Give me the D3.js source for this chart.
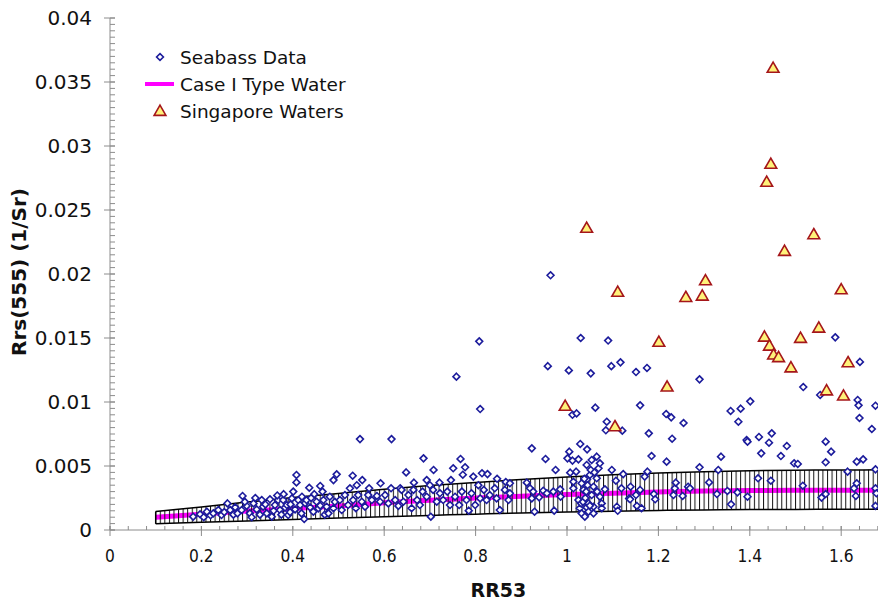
<!DOCTYPE html>
<html>
<head>
<meta charset="utf-8">
<script src="https://cdn.jsdelivr.net/npm/d3@7"></script>
<style>
  html, body { margin: 0; padding: 0; background: #fff; }
  svg { display: block; font-family: "DejaVu Sans", Verdana, sans-serif; }
</style>
</head>
<body>
<svg id="chart" width="878" height="605"></svg>
<script>
// ---- Data -------------------------------------------------------------
// x ticks and y ticks
const xTicks = [0, 0.2, 0.4, 0.6, 0.8, 1, 1.2, 1.4, 1.6];
const yTicks = [0, 0.005, 0.01, 0.015, 0.02, 0.025, 0.03, 0.035, 0.04];

// Case I model curve with its upper/lower envelope
const modelX     = [0.1, 0.2, 0.3, 0.4, 0.5, 0.6, 0.7, 0.8, 0.9, 1.0, 1.1, 1.2, 1.3, 1.4, 1.5, 1.6, 1.7];
const modelMid   = [0.00100, 0.00124, 0.00148, 0.00167, 0.00188, 0.00213, 0.00232, 0.00250, 0.00264, 0.00277, 0.00288, 0.00297, 0.00304, 0.00308, 0.00310, 0.00311, 0.00311];
const modelUpper = [0.00145, 0.00180, 0.00218, 0.00253, 0.00286, 0.00318, 0.00347, 0.00372, 0.00395, 0.00415, 0.00432, 0.00446, 0.00456, 0.00463, 0.00467, 0.00469, 0.00470];
const modelLower = [0.00048, 0.00060, 0.00071, 0.00082, 0.00093, 0.00104, 0.00114, 0.00124, 0.00133, 0.00140, 0.00147, 0.00153, 0.00157, 0.00160, 0.00161, 0.00162, 0.00162];

// Singapore waters [RR53, Rrs(555)]
const singapore = [
  [1.451, 0.0361], [1.446, 0.0286], [1.437, 0.0272], [1.043, 0.0236], [1.540, 0.0231],
  [1.476, 0.0218], [1.303, 0.0195], [1.111, 0.0186], [1.600, 0.0188], [1.260, 0.0182],
  [1.296, 0.0183], [1.201, 0.0147], [1.432, 0.0151], [1.443, 0.0144], [1.452, 0.0137],
  [1.463, 0.0135], [1.511, 0.0150], [1.551, 0.0158], [1.490, 0.0127], [1.615, 0.0131],
  [1.219, 0.0112], [1.568, 0.0109], [1.605, 0.0105], [1.105, 0.0081], [0.996, 0.0097]
];

// SeaBASS in-situ data [RR53, Rrs(555)]
const seabass = [
  [0.182,0.00104],[0.197,0.00123],[0.205,0.00100],[0.212,0.00143],[0.220,0.00115],[0.226,0.00130],
  [0.237,0.00156],[0.244,0.00117],[0.250,0.00140],[0.257,0.00208],[0.263,0.00156],[0.270,0.00120],
  [0.274,0.00177],[0.279,0.00130],[0.288,0.00156],[0.290,0.00266],[0.299,0.00188],[0.306,0.00130],
  [0.310,0.00100],[0.314,0.00208],[0.321,0.00161],[0.328,0.00120],[0.332,0.00234],[0.335,0.00182],
  [0.343,0.00130],[0.350,0.00240],[0.354,0.00104],[0.358,0.00150],[0.361,0.00195],[0.368,0.00234],
  [0.372,0.00156],[0.375,0.00120],[0.379,0.00234],[0.383,0.00175],[0.387,0.00195],[0.390,0.00117],
  [0.394,0.00140],[0.398,0.00247],[0.401,0.00300],[0.405,0.00161],[0.408,0.00430],[0.408,0.00372],
  [0.412,0.00234],[0.416,0.00195],[0.419,0.00130],[0.425,0.00086],[0.427,0.00210],[0.430,0.00234],
  [0.436,0.00330],[0.438,0.00177],[0.445,0.00143],[0.447,0.00280],[0.452,0.00221],[0.456,0.00169],
  [0.460,0.00344],[0.465,0.00300],[0.467,0.00234],[0.470,0.00120],[0.474,0.00182],[0.478,0.00130],
  [0.295,0.00220],[0.318,0.00250],[0.340,0.00200],[0.366,0.00270],[0.380,0.00280],[0.395,0.00200],
  [0.420,0.00260],[0.440,0.00250],[0.460,0.00190],
  [0.481,0.00260],[0.489,0.00390],[0.489,0.00170],[0.492,0.00220],[0.496,0.00435],[0.503,0.00234],
  [0.507,0.00156],[0.514,0.00273],[0.521,0.00195],[0.525,0.00326],[0.531,0.00424],[0.532,0.00234],
  [0.538,0.00170],[0.540,0.00350],[0.543,0.00273],[0.547,0.00710],[0.551,0.00221],[0.552,0.00390],
  [0.558,0.00182],[0.565,0.00273],[0.567,0.00326],[0.573,0.00234],[0.584,0.00266],[0.591,0.00221],
  [0.592,0.00365],[0.602,0.00273],[0.609,0.00208],[0.615,0.00326],[0.616,0.00710],[0.624,0.00234],
  [0.631,0.00188],[0.635,0.00326],[0.638,0.00313],[0.642,0.00221],[0.648,0.00450],[0.653,0.00273],
  [0.660,0.00170],[0.664,0.00313],[0.665,0.00370],[0.672,0.00234],[0.678,0.00195],[0.684,0.00300],
  [0.686,0.00560],[0.693,0.00260],[0.693,0.00390],[0.700,0.00350],[0.702,0.00104],[0.707,0.00313],
  [0.708,0.00469],[0.715,0.00221],[0.721,0.00370],[0.722,0.00287],[0.729,0.00234],[0.738,0.00300],
  [0.744,0.00195],[0.746,0.00390],[0.751,0.00482],[0.755,0.00260],[0.758,0.01198],[0.764,0.00195],
  [0.767,0.00555],[0.770,0.00300],[0.772,0.00432],[0.777,0.00490],[0.780,0.00234],[0.785,0.00151],
  [0.791,0.00287],[0.795,0.00417],[0.799,0.00195],[0.806,0.00350],[0.808,0.01474],[0.810,0.00945],
  [0.810,0.00247],[0.814,0.00443],[0.818,0.00313],[0.824,0.00234],[0.826,0.00437],[0.831,0.00273],
  [0.842,0.00326],[0.846,0.00247],[0.847,0.00400],[0.853,0.00156],[0.864,0.00313],[0.866,0.00375],
  [0.872,0.00234],
  [0.875,0.00365],[0.875,0.00287],[0.912,0.00370],[0.919,0.00326],[0.923,0.00638],[0.923,0.00247],
  [0.926,0.00300],[0.929,0.00143],[0.939,0.00255],[0.948,0.00307],[0.953,0.00555],[0.956,0.00287],
  [0.958,0.01280],[0.964,0.01990],[0.970,0.00300],[0.972,0.00151],[0.975,0.00469],[0.985,0.00318],
  [0.986,0.00260],[1.001,0.00560],[1.004,0.01247],[1.005,0.00612],[1.007,0.00448],[1.012,0.00900],
  [1.012,0.00542],[1.014,0.00377],[1.014,0.00326],[1.020,0.00456],[1.021,0.00911],[1.025,0.00552],
  [1.025,0.00234],[1.028,0.00170],[1.029,0.00672],[1.030,0.01500],[1.031,0.00208],[1.032,0.00365],
  [1.032,0.00130],[1.036,0.00313],[1.039,0.00104],[1.042,0.00300],[1.043,0.00508],[1.043,0.00177],
  [1.044,0.00630],[1.044,0.00396],[1.047,0.00208],[1.047,0.00143],[1.050,0.00430],[1.052,0.00469],
  [1.052,0.01224],[1.054,0.00547],[1.054,0.00273],[1.058,0.00338],[1.058,0.00182],[1.058,0.00130],
  [1.062,0.00956],[1.065,0.00573],[1.065,0.00404],[1.066,0.00300],[1.069,0.00482],[1.072,0.00521],
  [1.072,0.00260],[1.076,0.00208],[1.076,0.00170],[1.083,0.00318],[1.085,0.00779],[1.087,0.00846],
  [1.035,0.00220],[1.040,0.00250],[1.050,0.00190],[1.045,0.00350],[1.038,0.00400],[1.060,0.00450],
  [1.090,0.01480],[1.097,0.01280],[1.098,0.00469],[1.107,0.00385],[1.109,0.00182],[1.111,0.00150],
  [1.117,0.01310],[1.119,0.00326],[1.121,0.00776],[1.123,0.00437],[1.136,0.00247],[1.138,0.00240],
  [1.139,0.00338],[1.151,0.01234],[1.151,0.00273],[1.153,0.00188],[1.160,0.00974],[1.160,0.00313],
  [1.163,0.00170],[1.170,0.00417],[1.175,0.01266],[1.176,0.00456],[1.179,0.00755],[1.185,0.00578],
  [1.190,0.00281],[1.193,0.00240],[1.217,0.00906],[1.218,0.00534],[1.228,0.00880],[1.230,0.00713],
  [1.233,0.00273],[1.236,0.00326],[1.238,0.00370],[1.253,0.00266],[1.255,0.00836],[1.265,0.00338],
  [1.269,0.00326],[1.290,0.01177],[1.290,0.00490],[1.311,0.00372],[1.328,0.00281],[1.331,0.00469],
  [1.337,0.00573],[1.351,0.00305],[1.358,0.00930],[1.359,0.00201],[1.373,0.00294],[1.375,0.00846],
  [1.380,0.00948],[1.393,0.00703],[1.395,0.00690],[1.395,0.00260],[1.401,0.01005],[1.418,0.00404],
  [1.420,0.00727],[1.425,0.00599],[1.442,0.00682],[1.446,0.00385],[1.448,0.00755],[1.468,0.00578],
  [1.481,0.00656],[1.497,0.00521],[1.505,0.00516],[1.516,0.00346],[1.517,0.01117],[1.554,0.01055],
  [1.557,0.00253],[1.566,0.00690],[1.566,0.00529],[1.566,0.00281],[1.578,0.00612],[1.587,0.01505],
  [1.614,0.00456],[1.628,0.00326],[1.632,0.00266],[1.634,0.00534],[1.634,0.00365],[1.636,0.01016],
  [1.638,0.00974],[1.640,0.00875],[1.641,0.01313],[1.648,0.00552],[1.667,0.00789],[1.675,0.00971],
  [1.675,0.00474],[1.675,0.00326],[1.677,0.00287],[1.675,0.00188]
];

const legendItems = ["Seabass Data", "Case I Type Water", "Singapore Waters"];

// ---- Layout -----------------------------------------------------------
const svg = d3.select("#chart");
const plotLeft = 110, plotTop = 18, plotBottom = 530;
const x = d3.scaleLinear().domain([0, 1.7]).range([plotLeft, plotLeft + 1.7 * 457]);
const y = d3.scaleLinear().domain([0, 0.04]).range([plotBottom, plotTop]);

const axisColor = "#8c8c8c";

// Hatch pattern for the envelope, aligned to the model x step
const defs = svg.append("defs");
const hatchStep = x(0.11) - x(0.1);
const pat = defs.append("pattern")
  .attr("id", "hatch")
  .attr("patternUnits", "userSpaceOnUse")
  .attr("x", x(0.1) - 0.5)
  .attr("y", 0)
  .attr("width", hatchStep)
  .attr("height", 10);
pat.append("rect").attr("x", 0).attr("y", 0).attr("width", 1).attr("height", 10).attr("fill", "#111");

const model = modelX.map((v, i) => ({ x: v, mid: modelMid[i], up: modelUpper[i], lo: modelLower[i] }));

// Magenta Case I line (drawn beneath the hatching)
svg.append("path")
  .datum(model)
  .attr("fill", "none")
  .attr("stroke", "#ff00ff")
  .attr("stroke-width", 5)
  .attr("d", d3.line().x(d => x(d.x)).y(d => y(d.mid)).curve(d3.curveMonotoneX));

// Envelope with vertical hatching
svg.append("path")
  .datum(model)
  .attr("fill", "url(#hatch)")
  .attr("stroke", "none")
  .attr("d", d3.area().x(d => x(d.x)).y0(d => y(d.lo)).y1(d => y(d.up)).curve(d3.curveMonotoneX));

const edge = d3.line().x(d => x(d.x)).curve(d3.curveMonotoneX);
svg.append("path").datum(model).attr("fill", "none").attr("stroke", "#000").attr("stroke-width", 1.5)
  .attr("d", edge.y(d => y(d.up)));
svg.append("path").datum(model).attr("fill", "none").attr("stroke", "#000").attr("stroke-width", 1.5)
  .attr("d", edge.y(d => y(d.lo)));
svg.append("line")
  .attr("x1", x(modelX[0])).attr("x2", x(modelX[0]))
  .attr("y1", y(modelLower[0])).attr("y2", y(modelUpper[0]))
  .attr("stroke", "#000").attr("stroke-width", 1.5);

// ---- Axes -------------------------------------------------------------
const xAxisG = svg.append("g").attr("transform", `translate(0,${plotBottom})`);
xAxisG.append("line").attr("x1", plotLeft).attr("x2", 878).attr("y1", 0).attr("y2", 0)
  .attr("stroke", axisColor).attr("stroke-width", 1);
// minor ticks (inside)
xAxisG.selectAll("line.minor").data(d3.range(0, 43).map(i => i * 0.04))
  .join("line").attr("class", "minor")
  .attr("x1", d => x(d)).attr("x2", d => x(d)).attr("y1", 0).attr("y2", -4)
  .attr("stroke", axisColor);
xAxisG.selectAll("line.major").data(xTicks.concat([1.8]))
  .join("line").attr("class", "major")
  .attr("x1", d => x(d)).attr("x2", d => x(d)).attr("y1", -4).attr("y2", 6)
  .attr("stroke", axisColor);
// condensed tick labels along x
xAxisG.selectAll("text").data(xTicks).join("text")
  .attr("transform", d => `translate(${x(d)},32) scale(0.86,1)`)
  .attr("text-anchor", "middle")
  .attr("font-size", 18)
  .attr("fill", "#111")
  .text(d => d3.format("")(d));

const yAxisG = svg.append("g").attr("transform", `translate(${plotLeft},0)`);
yAxisG.append("line").attr("x1", 0).attr("x2", 0).attr("y1", plotTop).attr("y2", plotBottom)
  .attr("stroke", axisColor);
yAxisG.selectAll("line.minor").data(d3.range(0, 81).map(i => i * 0.0005))
  .join("line").attr("class", "minor")
  .attr("x1", 0).attr("x2", 5).attr("y1", d => y(d)).attr("y2", d => y(d))
  .attr("stroke", axisColor);
yAxisG.selectAll("line.major").data(yTicks)
  .join("line").attr("class", "major")
  .attr("x1", -6).attr("x2", 5).attr("y1", d => y(d)).attr("y2", d => y(d))
  .attr("stroke", axisColor);
yAxisG.selectAll("text").data(yTicks).join("text")
  .attr("x", -18).attr("y", d => y(d) + 7)
  .attr("text-anchor", "end")
  .attr("font-size", 20)
  .attr("fill", "#111")
  .text(d => d3.format("")(d));

// Axis titles
svg.append("text")
  .attr("x", x(0.85)).attr("y", 597)
  .attr("text-anchor", "middle")
  .attr("font-size", 19).attr("font-weight", "bold").attr("fill", "#111")
  .text("RR53");
svg.append("text")
  .attr("transform", `translate(26,${(plotTop + plotBottom) / 2 - 2}) rotate(-90)`)
  .attr("text-anchor", "middle")
  .attr("font-size", 20).attr("font-weight", "bold").attr("fill", "#111")
  .text("Rrs(555) (1/Sr)");

// ---- Marks ------------------------------------------------------------
const diamond = d3.symbol().type(d3.symbolDiamond2).size(30);
const triangle = d3.symbol().type(d3.symbolTriangle).size(60);

const plot = svg.append("g");
plot.selectAll("path.sb").data(seabass).join("path")
  .attr("class", "sb")
  .attr("transform", d => `translate(${x(d[0])},${y(d[1])})`)
  .attr("d", diamond)
  .attr("fill", "#fff")
  .attr("stroke", "#1c1c9c")
  .attr("stroke-width", 1.6);

plot.selectAll("path.sg").data(singapore).join("path")
  .attr("class", "sg")
  .attr("transform", d => `translate(${x(d[0])},${y(d[1]) + 1})`)
  .attr("d", triangle)
  .attr("fill", "#fff27a")
  .attr("stroke", "#a5161a")
  .attr("stroke-width", 1.6);

// ---- Legend -----------------------------------------------------------
const lg = svg.append("g");
const rows = [57, 84, 111];
lg.append("path").attr("transform", `translate(160,${rows[0]})`).attr("d", diamond)
  .attr("fill", "#fff").attr("stroke", "#1c1c9c").attr("stroke-width", 1.6);
lg.append("line").attr("x1", 145).attr("x2", 174).attr("y1", rows[1]).attr("y2", rows[1])
  .attr("stroke", "#ff00ff").attr("stroke-width", 4);
lg.append("path").attr("transform", `translate(160,${rows[2] + 1})`).attr("d", triangle)
  .attr("fill", "#fff27a").attr("stroke", "#a5161a").attr("stroke-width", 1.6);
lg.selectAll("text").data(legendItems).join("text")
  .attr("x", 180).attr("y", (d, i) => rows[i] + 7)
  .attr("font-size", 18.5).attr("fill", "#111")
  .text(d => d);
</script>
</body>
</html>
